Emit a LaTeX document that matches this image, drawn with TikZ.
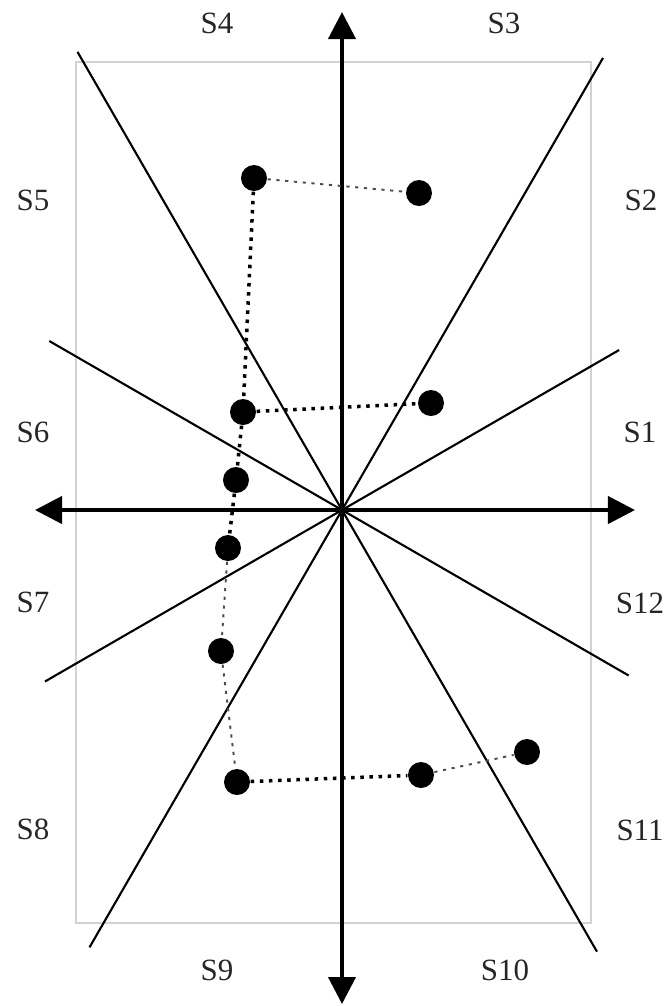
\documentclass[tikz,border=0pt]{standalone}
\usepackage{fontspec}
\setmainfont{Liberation Serif}
\usetikzlibrary{arrows.meta}

\begin{document}
\begin{tikzpicture}[
        every node/.style={font=\fontsize{8.8}{10}\selectfont, text=black!85},
        axis/.style={line width=1.15pt, {Triangle[width=0.27cm,length=0.27cm]}-{Triangle[width=0.27cm,length=0.27cm]}},
        ray/.style={line width=0.6pt},
        dot/.style={circle, fill=black, inner sep=0pt, minimum size=0.26cm},
        trail/.style={line width=1pt, dash pattern=on 1pt off 1.6pt},
        faint/.style={line width=0.55pt, black!70, dash pattern=on 0.9pt off 1.6pt}]
    \useasboundingbox (0,0) rectangle (6.7,-10.06);
    % Frame
    \draw[gray!35, line width=0.3pt] (0.76,-0.62) rectangle (5.91,-9.23);
    % Sector boundaries (every 30 degrees)
    \coordinate (o) at (3.42,-5.10);
    \foreach \a/\l in {30/3.20, 60/5.22, 120/5.29, 150/3.38, 210/3.43, 240/5.05, 300/5.10, 330/3.31}
        \draw[ray] (o) -- ++(\a:\l);
    % Axes
    \coordinate (top) at (3.42,-0.12);
    \coordinate (bot) at (3.42,-10.04);
    \coordinate (lft) at (0.35,-5.10);
    \coordinate (rgt) at (6.35,-5.10);
    \draw[axis] (bot) -- (top);
    \draw[axis] (lft) -- (rgt);
    % Sector labels
    \node (s1)  at (6.40,-4.32) {S1};
    \node (s2)  at (6.41,-2.00) {S2};
    \node (s3)  at (5.04,-0.23) {S3};
    \node (s4)  at (2.17,-0.23) {S4};
    \node (s5)  at (0.33,-2.00) {S5};
    \node (s6)  at (0.33,-4.32) {S6};
    \node (s7)  at (0.33,-6.02) {S7};
    \node (s8)  at (0.33,-8.29) {S8};
    \node (s9)  at (2.17,-9.70) {S9};
    \node (s10) at (5.05,-9.70) {S10};
    \node (s11) at (6.40,-8.30) {S11};
    \node (s12) at (6.40,-6.03) {S12};
    % Points
    \node[dot] (p1)  at (2.54,-1.78) {};
    \node[dot] (p2)  at (4.19,-1.93) {};
    \node[dot] (p3)  at (2.43,-4.12) {};
    \node[dot] (p4)  at (4.31,-4.03) {};
    \node[dot] (p5)  at (2.36,-4.80) {};
    \node[dot] (p6)  at (2.28,-5.48) {};
    \node[dot] (p7)  at (2.21,-6.51) {};
    \node[dot] (p8)  at (2.37,-7.82) {};
    \node[dot] (p9)  at (4.21,-7.75) {};
    \node[dot] (p10) at (5.27,-7.52) {};
    % Path between points
    \draw[faint] (p1) -- (p2);
    \draw[trail] (p1) -- (p3);
    \draw[trail] (p3) -- (p4);
    \draw[trail] (p3) -- (p5);
    \draw[trail] (p5) -- (p6);
    \draw[faint] (p6) -- (p7);
    \draw[faint] (p7) -- (p8);
    \draw[trail] (p8) -- (p9);
    \draw[faint] (p9) -- (p10);
\end{tikzpicture}
\end{document}
